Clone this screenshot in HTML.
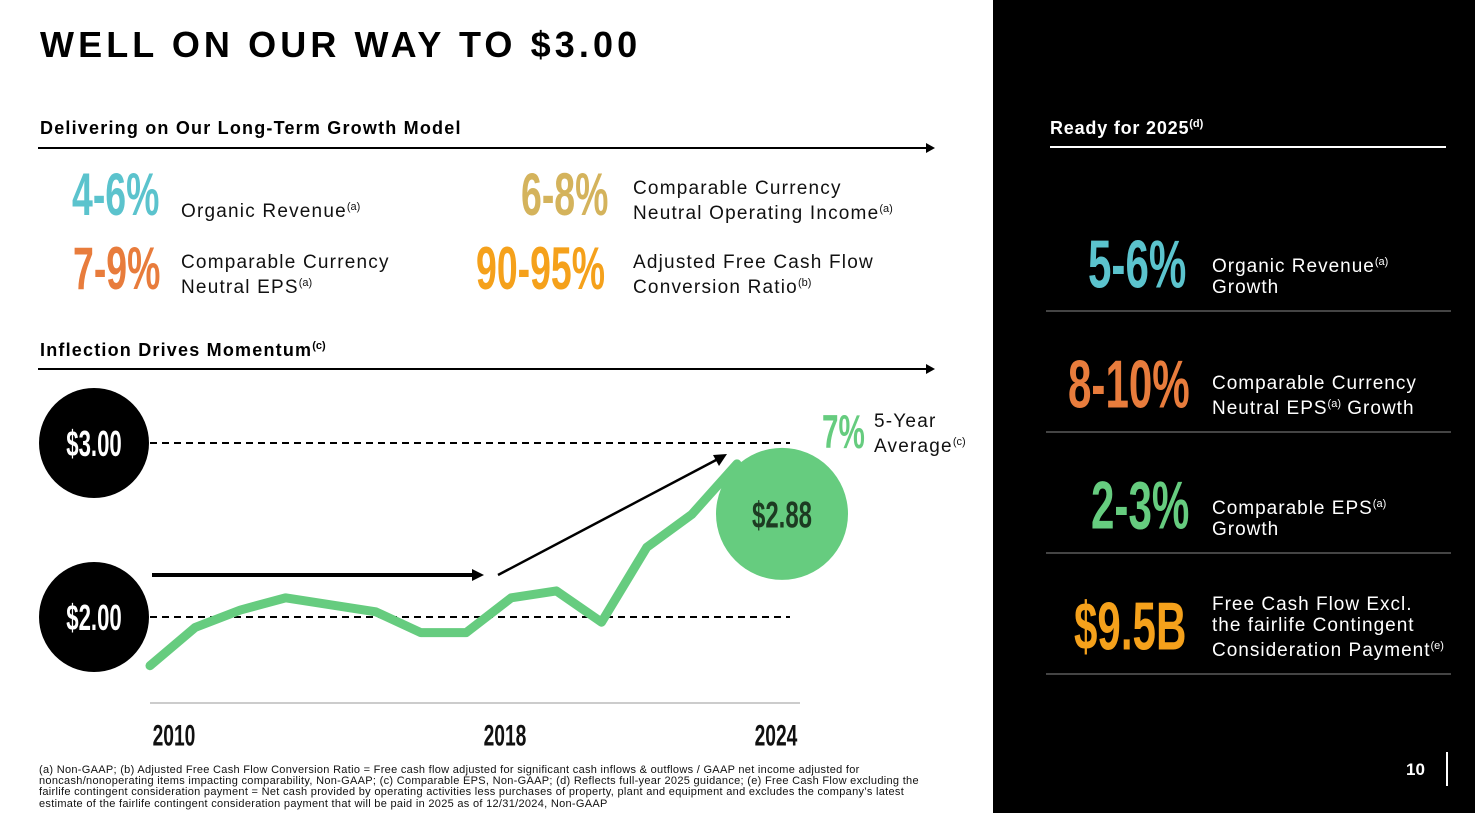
<!DOCTYPE html>
<html><head><meta charset="utf-8"><style>
*{margin:0;padding:0;box-sizing:border-box}
body{width:1475px;height:813px;position:relative;background:#fff;font-family:"Liberation Sans",sans-serif;overflow:hidden}
.a{position:absolute}
.big{font-family:"Liberation Sans Narrow","Liberation Sans",sans-serif;font-weight:bold;transform:scale(0.78,1.25);transform-origin:left center;letter-spacing:0}
.lbl{font-size:19px;line-height:21px;letter-spacing:1.2px;color:#111}
sup{font-size:11px;vertical-align:7px;letter-spacing:0}
.rl{font-size:19px;line-height:21px;color:#fff;letter-spacing:1px}
.hr{position:absolute;left:1046px;width:405px;height:2px;background:#444}
</style></head><body>
<div class="a" style="left:40px;top:24px;font-size:36px;font-weight:bold;letter-spacing:4.1px">WELL ON OUR WAY TO $3.00</div>
<div class="a" style="left:40px;top:118px;font-size:18px;font-weight:bold;letter-spacing:1.2px">Delivering on Our Long-Term Growth Model</div>
<svg class="a" style="left:38px;top:140px" width="900" height="16"><line x1="0" y1="8" x2="890" y2="8" stroke="#000" stroke-width="2"/><polygon points="888,3 897,8 888,13" fill="#000"/></svg>
<div class="a big" style="left:72px;top:168px;font-size:48px;color:#5bc3cd">4-6%</div>
<div class="a lbl" style="left:181px;top:197px">Organic Revenue<sup>(a)</sup></div>
<div class="a big" style="left:521px;top:168px;font-size:48px;color:#d4b35c">6-8%</div>
<div class="a lbl" style="left:633px;top:178px">Comparable Currency<br>Neutral Operating Income<sup>(a)</sup></div>
<div class="a big" style="left:73px;top:242px;font-size:48px;color:#e87c3c">7-9%</div>
<div class="a lbl" style="left:181px;top:252px">Comparable Currency<br>Neutral EPS<sup>(a)</sup></div>
<div class="a big" style="left:476px;top:242px;font-size:48px;color:#f5a11b">90-95%</div>
<div class="a lbl" style="left:633px;top:252px">Adjusted Free Cash Flow<br>Conversion Ratio<sup>(b)</sup></div>
<div class="a" style="left:40px;top:340px;font-size:18px;font-weight:bold;letter-spacing:1.2px">Inflection Drives Momentum<sup>(c)</sup></div>
<svg class="a" style="left:38px;top:361px" width="900" height="16"><line x1="0" y1="8" x2="890" y2="8" stroke="#000" stroke-width="2"/><polygon points="888,3 897,8 888,13" fill="#000"/></svg>

<svg id="chart" class="a" style="left:0;top:380px" width="990" height="380"></svg>

<div class="a big" style="left:822px;top:412px;font-size:38px;color:#66cc7f">7%</div>
<div class="a lbl" style="left:874px;top:411px">5-Year<br>Average<sup>(c)</sup></div>

<div class="a" style="left:39px;top:765px;width:900px;font-size:11px;line-height:11.2px;color:#111;letter-spacing:0.3px;white-space:nowrap">(a) Non-GAAP; (b) Adjusted Free Cash Flow Conversion Ratio = Free cash flow adjusted for significant cash inflows &amp; outflows / GAAP net income adjusted for<br>noncash/nonoperating items impacting comparability, Non-GAAP; (c) Comparable EPS, Non-GAAP; (d) Reflects full-year 2025 guidance; (e) Free Cash Flow excluding the<br>fairlife contingent consideration payment = Net cash provided by operating activities less purchases of property, plant and equipment and excludes the company’s latest<br>estimate of the fairlife contingent consideration payment that will be paid in 2025 as of 12/31/2024, Non-GAAP</div>

<div class="a" style="left:993px;top:0;width:482px;height:813px;background:#000"></div>
<div class="a" style="left:1050px;top:118px;font-size:18px;font-weight:bold;color:#fff;letter-spacing:0.8px">Ready for 2025<sup>(d)</sup></div>
<div class="a" style="left:1050px;top:146px;width:396px;height:2px;background:#fff"></div>
<div class="a big" style="left:1088px;top:234px;font-size:54px;color:#5bc3cd">5-6%</div>
<div class="a rl" style="left:1212px;top:252px">Organic Revenue<sup>(a)</sup><br>Growth</div>
<div class="hr" style="top:310px"></div>
<div class="a big" style="left:1068px;top:354px;font-size:54px;color:#e87c3c">8-10%</div>
<div class="a rl" style="left:1212px;top:373px">Comparable Currency<br>Neutral EPS<sup>(a)</sup> Growth</div>
<div class="hr" style="top:431px"></div>
<div class="a big" style="left:1091px;top:475px;font-size:54px;color:#66cc7f">2-3%</div>
<div class="a rl" style="left:1212px;top:494px">Comparable EPS<sup>(a)</sup><br>Growth</div>
<div class="hr" style="top:552px"></div>
<div class="a big" style="left:1074px;top:596px;font-size:54px;color:#f5a11b">$9.5B</div>
<div class="a rl" style="left:1212px;top:594px">Free Cash Flow Excl.<br>the fairlife Contingent<br>Consideration Payment<sup>(e)</sup></div>
<div class="hr" style="top:673px"></div>
<div class="a" style="left:1406px;top:760px;font-size:17px;font-weight:bold;color:#fff">10</div>
<div class="a" style="left:1446px;top:752px;width:2px;height:34px;background:#fff"></div>

<script>
const categories=["2010","2011","2012","2013","2014","2015","2016","2017","2018","2019","2020","2021","2022","2024"];
const epsValues=[1.72,1.94,2.04,2.11,2.07,2.03,1.91,1.91,2.11,2.15,1.97,2.40,2.59,2.88];
const refValues=[2.00,3.00];
const refLabels=["$2.00","$3.00"];
const axisLabels=["2010","2018","2024"];
const NS="http://www.w3.org/2000/svg";
const svg=document.getElementById('chart');
const OY=380;
const x=i=>150+i*(737-150)/(categories.length-1);
const y=v=>617-OY-(v-2)*174;
function mk(t,a){const e=document.createElementNS(NS,t);for(const k in a)e.setAttribute(k,a[k]);svg.appendChild(e);return e;}
function sc(cx,cy,sx,sy){return `translate(${cx} ${cy}) scale(${sx} ${sy}) translate(${-cx} ${-cy})`;}
let b=mk('line',{x1:150,y1:323,x2:800,y2:323,stroke:'#bbb','stroke-width':1.5});


refValues.forEach((v,i)=>{
 const l=mk('line',{x1:150,y1:y(v),x2:790,y2:y(v),stroke:'#000','stroke-width':2,'stroke-dasharray':'7,5'});
 
 
 const c=mk('circle',{cx:94,cy:y(v),r:55,fill:'#000'});
 
 
 const t=mk('text',{x:94,y:y(v)+11,'text-anchor':'middle',fill:'#fff','font-weight':'bold','font-size':30,transform:sc(94,y(v),0.74,1.2)});
 t.textContent=refLabels[i];
 
 
});
let a1=mk('line',{x1:152,y1:195,x2:475,y2:195,stroke:'#000','stroke-width':4});


mk('polygon',{points:'472,189 484,195 472,201',fill:'#000'});
let a2=mk('line',{x1:498,y1:195,x2:718,y2:79,stroke:'#000','stroke-width':2.5});


mk('polygon',{points:'727,74 713,75 719,86',fill:'#000'});
const pl=mk('polyline',{points:epsValues.map((v,i)=>x(i)+','+y(v)).join(' '),fill:'none',stroke:'#66cc7f','stroke-width':9,'stroke-linejoin':'round','stroke-linecap':'round'});


const last=epsValues.length-1;
const cy=y(epsValues[last])+50;
const bc=mk('circle',{cx:782,cy:cy,r:66,fill:'#66cc7f'});


const bt=mk('text',{x:782,y:cy+11,'text-anchor':'middle',fill:'#1d3b22','font-weight':'bold','font-size':30,transform:sc(782,cy,0.8,1.25)});
bt.textContent='$'+epsValues[last].toFixed(2);


const lx=[174,505,776];
axisLabels.forEach((s,i)=>{
 const t=mk('text',{x:lx[i],y:364,'text-anchor':'middle','font-weight':'bold','font-size':26,fill:'#111',transform:sc(lx[i],355,0.74,1.15)});
 t.textContent=s;
 
 
});
</script>
</body></html>
